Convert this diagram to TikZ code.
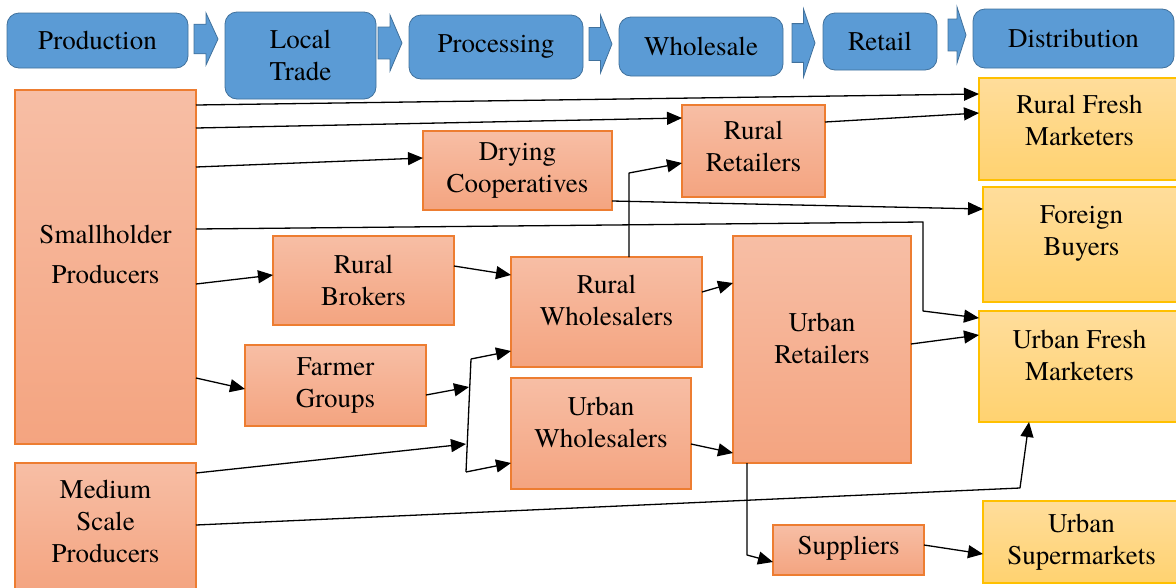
\documentclass[tikz,border=0pt]{standalone}
\usepackage{fontspec}
\setmainfont{TeX Gyre Termes}
\usetikzlibrary{arrows.meta}
\usepackage{xcolor}
\definecolor{stageblue}{RGB}{91,155,213}
\definecolor{stageline}{RGB}{65,113,156}
\definecolor{playertop}{RGB}{247,190,165}
\definecolor{playerbot}{RGB}{244,164,128}
\definecolor{playerline}{RGB}{237,125,49}
\definecolor{outlettop}{RGB}{255,221,155}
\definecolor{outletbot}{RGB}{255,210,112}
\definecolor{outletline}{RGB}{255,192,0}
% box from its corners, text lifted by #7
\newcommand{\actor}[8] {
    \node[#1,minimum width={#5-#3},minimum height={#6-#4}] (#2) at ({(#3+#5)/2}, {(#4+#6)/2}) {};
    \node[align=center] at ({(#3+#5)/2}, {(#4+#6)/2-#7}) {#8};
}
% block arrow between two stages
\newcommand{\stagearrow}[4] {
    \filldraw[stage] (#1,{#2-0.57*#4}) -- ({#1+0.5*#3},{#2-0.57*#4})
        -- ({#1+0.5*#3},{#2-#4}) -- ({#1+#3},#2) -- ({#1+0.5*#3},{#2+#4})
        -- ({#1+0.5*#3},{#2+0.57*#4}) -- (#1,{#2+0.57*#4}) -- cycle;
}

\begin{document}
\begin{tikzpicture}[x=1pt,y=-1pt,font=\fontsize{27}{32}\selectfont,
    every node/.style={inner sep=0pt,outer sep=0pt},
    stage/.style={draw=stageline,fill=stageblue,line width=0.8pt},
    header/.style={stage,rounded corners=12pt},
    player/.style={draw=playerline,line width=1.5pt,top color=playertop,bottom color=playerbot},
    outlet/.style={draw=outletline,line width=1.5pt,top color=outlettop,bottom color=outletbot},
    flow/.style={line width=1.3pt,line join=round,-{Triangle[length=15pt,width=13pt]}}]
    \useasboundingbox (0,0) rectangle (1176,587);
    % stages
    \actor{header}{prod}{7}{13}{188}{68}{0}{Production}
    \actor{header}{trade}{225}{12}{376}{99}{0}{Local\\Trade}
    \actor{header}{proc}{409}{15}{583}{79}{0}{Processing}
    \actor{header}{whole}{619}{17}{783}{76}{0}{Wholesale}
    \actor{header}{retail}{823}{13}{937}{70}{0}{Retail}
    \actor{header}{distr}{973}{9}{1174}{68}{0}{Distribution}
    \stagearrow{194}{39}{24}{26}
    \stagearrow{378}{43}{24}{28}
    \stagearrow{589}{44}{23}{29}
    \stagearrow{792}{43}{23}{34}
    \stagearrow{948}{35}{18}{28}
    % producers and traders
    \actor{player}{small}{15}{90}{196}{444}{13}{Smallholder\\[8pt]Producers}
    \actor{player}{medium}{15}{463}{196}{592}{6}{Medium\\Scale\\Producers}
    \actor{player}{dry}{423}{131}{612}{210}{0}{Drying\\Cooperatives}
    \actor{player}{rret}{682}{105}{825}{197}{5}{Rural\\Retailers}
    \actor{player}{rbrok}{273}{236}{454}{325}{0}{Rural\\Brokers}
    \actor{player}{rwhole}{511}{257}{702}{367}{12}{Rural\\Wholesalers}
    \actor{player}{farmer}{245}{345}{426}{426}{0}{Farmer\\Groups}
    \actor{player}{uwhole}{511}{378}{691}{489}{11}{Urban\\Wholesalers}
    \actor{player}{uret}{733}{236}{911}{463}{11}{Urban\\Retailers}
    \actor{player}{supp}{773}{525}{924}{575}{2}{Suppliers}
    % markets
    \actor{outlet}{rfresh}{979}{78}{1180}{180}{9}{Rural Fresh\\Marketers}
    \actor{outlet}{foreign}{983}{187}{1180}{302}{11}{Foreign\\Buyers}
    \actor{outlet}{ufresh}{979}{311}{1180}{422}{11}{Urban Fresh\\Marketers}
    \actor{outlet}{usup}{983}{501}{1180}{583}{0}{Urban\\Supermarkets}
    % bends and joins
    \coordinate (jtop) at (471,359);
    \coordinate (jbot) at (466,472);
    \coordinate (jfarm) at (469,387);
    \coordinate (jmed) at (466,444);
    \coordinate (bend) at (923,222);
    \coordinate (kink) at (1020,488);
    % flows
    \draw[flow] (small.east |- 0,105) -- (rfresh.west |- 0,94);
    \draw[flow] (small.east |- 0,128) -- (rret.west |- 0,118);
    \draw[flow] (rret.east |- 0,122) -- (rfresh.west |- 0,113);
    \draw[flow] (small.east |- 0,167) -- (dry.west |- 0,158);
    \draw[flow] (dry.east |- 0,201) -- (foreign.west |- 0,209);
    \draw[flow] (small.east |- 0,229) -- (bend) -- (bend |- 0,311) -- (ufresh.west |- 0,318);
    \draw[flow] (small.east |- 0,284) -- (rbrok.west |- 0,275);
    \draw[flow] (rbrok.east |- 0,266) -- (rwhole.west |- 0,275);
    \draw[flow] (rwhole.north -| 629,0) -- ++(0,-84) -- (rret.west |- 0,163);
    \draw[flow] (rwhole.east |- 0,292) -- (uret.west |- 0,283);
    \draw[flow] (uret.east |- 0,344) -- (ufresh.west |- 0,335);
    \draw[flow] (small.east |- 0,378) -- (farmer.west |- 0,389);
    \draw[flow] (farmer.east |- 0,395) -- (jfarm);
    \draw[flow] (medium.east |- 0,473) -- (jmed);
    \draw[line width=1.3pt] (jtop) -- (jbot);
    \draw[flow] (jtop) -- (rwhole.west |- 0,351);
    \draw[flow] (jbot) -- (uwhole.west |- 0,463);
    \draw[flow] (uwhole.east |- 0,444) -- (uret.west |- 0,453);
    \draw[flow] (uret.south -| 747,0) -- ++(0,92) -- (supp.west |- 0,562);
    \draw[flow] (supp.east |- 0,545) -- (usup.west |- 0,554);
    \draw[flow] (medium.east |- 0,525) -- (kink) -- (ufresh.south -| 1029,0);
\end{tikzpicture}
\end{document}
